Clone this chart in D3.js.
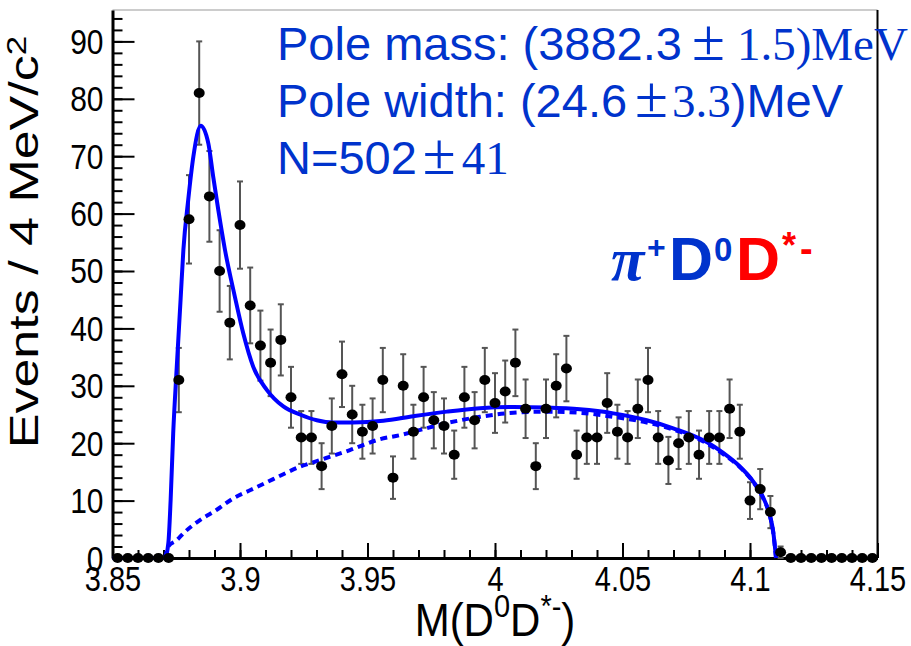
<!DOCTYPE html>
<html>
<head>
<meta charset="utf-8">
<script src="https://cdn.jsdelivr.net/npm/d3@7"></script>
<style>
body { margin: 0; background: #fff; }
svg { display: block; }
</style>
</head>
<body>
<div id="chart"></div>
<script>
// histogram: 75 bins of 4 MeV from 3.85 GeV
var binLow = 3.85;
var binWidth = 0.004;
var counts = [0, 0, 0, 0, 0, 0,
    31, 59, 81, 63, 50, 41, 58, 44, 37, 34,
    38, 28, 21, 21, 16, 23, 32, 25, 22, 23,
    31, 14, 30, 22, 28, 24, 23, 18, 28, 24,
    31, 27, 29, 34, 26, 16, 26, 30, 33, 18,
    21, 21, 27, 22, 21, 26, 31, 21, 17, 20,
    21, 18, 21, 21, 26, 22, 10, 12, 8, 1,
    0, 0, 0, 0, 0, 0, 0, 0, 0];
var errors = [0, 0, 0, 0, 0, 0,
    5.6, 7.7, 9, 7.9, 7.1, 6.4, 7.6, 6.6, 6.1, 5.8,
    6.2, 5.3, 4.6, 4.6, 4, 4.8, 5.7, 5, 4.7, 4.8,
    5.6, 3.7, 5.5, 4.7, 5.3, 4.9, 4.8, 4.2, 5.3, 4.9,
    5.6, 5.2, 5.4, 5.8, 5.1, 4, 5.1, 5.5, 5.7, 4.2,
    4.6, 4.6, 5.2, 4.7, 4.6, 5.1, 5.6, 4.6, 4.1, 4.5,
    4.6, 4.2, 4.6, 4.6, 5.1, 4.7, 3.2, 3.5, 2.8, 1,
    0, 0, 0, 0, 0, 0, 0, 0, 0];

// total fit (solid)
var fitMass = [3.85, 3.8706, 3.8719, 3.8728, 3.8738, 3.8752, 3.8767, 3.8778, 3.8797, 3.8817,
    3.8846, 3.8876, 3.8895, 3.8915, 3.8941, 3.8980, 3.9013, 3.9052, 3.9105, 3.9170,
    3.9235, 3.9301, 3.9366, 3.9444, 3.9562, 3.9680, 3.9811, 3.9941, 4.0072, 4.0203,
    4.0333, 4.0464, 4.0595, 4.0699, 4.0830, 4.0895, 4.0961, 4.1013, 4.1052, 4.1078,
    4.1091, 4.1102];
var fitValue = [0, 0, 2.6, 10.1, 21.7, 33.3, 45, 53.7, 62.4, 69.9,
    75.3, 72.2, 66.4, 60.6, 53.7, 45.5, 39.1, 33.3, 29.3, 26.4,
    25, 24, 23.6, 23.6, 23.9, 24.7, 25.5, 26.1, 26.3, 26.2,
    25.9, 25.2, 24, 22.6, 20.2, 18.3, 15.9, 13.3, 10.5, 7.4,
    4.6, 0];

// background (dashed)
var bkgMass = [3.8706, 3.8719, 3.8752, 3.8778, 3.8843, 3.8909, 3.8974, 3.9039, 3.9105, 3.9170,
    3.9235, 3.9275, 3.9431, 3.9549, 3.9627, 3.9680, 3.9811, 3.9941, 4.0072, 4.0203,
    4.0333, 4.0464, 4.0595, 4.0725, 4.0830, 4.0895, 4.0961, 4.1013, 4.1052, 4.1078,
    4.1091, 4.1102];
var bkgValue = [0, 2, 3.1, 4.3, 6.6, 8.4, 10.4, 11.8, 13.2, 14.6,
    15.9, 16.5, 18.8, 20.7, 21.4, 22, 23.5, 24.6, 25.3, 25.5,
    25.3, 24.6, 23.6, 22, 20, 18.1, 15.8, 13.2, 10.4, 7.3,
    4.5, 0];

var xTicks = [3.85, 3.9, 3.95, 4, 4.05, 4.1, 4.15];
var xTickLabels = ["3.85", "3.9", "3.95", "4", "4.05", "4.1", "4.15"];
var yTicks = [0, 10, 20, 30, 40, 50, 60, 70, 80, 90];

var width = 911, height = 646;
var padding = { top: 10, right: 33.5, bottom: 88, left: 112.5 };
var blue = "#0000ff", textBlue = "#0033cc", red = "#ff0000";
var sans = "'Liberation Sans', Arial, sans-serif";
var serif = "'Liberation Serif', 'Times New Roman', serif";

var svg = d3.select("#chart")
    .append("svg")
    .attr("width", width)
    .attr("height", height)
    .style("font-family", sans);

var xScale = d3.scaleLinear()
    .domain([3.85, 4.15])
    .range([padding.left, width - padding.right]);
var yScale = d3.scaleLinear()
    .domain([0, 95.47])
    .range([height - padding.bottom, padding.top]);

var x0 = padding.left, x1 = width - padding.right;
var y0 = height - padding.bottom, y1 = padding.top;

// frame (top and right)
svg.append("line")
    .attr("x1", x0).attr("x2", x1).attr("y1", y1).attr("y2", y1)
    .attr("stroke", "#999").attr("stroke-width", 1.2);
svg.append("line")
    .attr("x1", x1).attr("x2", x1).attr("y1", y1).attr("y2", y0)
    .attr("stroke", "#000").attr("stroke-width", 2);

// minor ticks
svg.append("g")
    .attr("transform", "translate(" + x0 + ",0)")
    .call(d3.axisLeft(yScale).tickValues(d3.range(0, 96, 2)).tickSize(-10).tickFormat(""))
    .call(function(g) { g.select(".domain").remove(); })
    .selectAll("line").attr("stroke-width", 2);
svg.append("g")
    .attr("transform", "translate(0," + y0 + ")")
    .call(d3.axisBottom(xScale).tickValues(d3.range(0, 31).map(function(i) { return 3.85 + i * 0.01; })).tickSize(-8).tickFormat(""))
    .call(function(g) { g.select(".domain").remove(); })
    .selectAll("line").attr("stroke-width", 2);

// major axes
var yAxis = d3.axisLeft(yScale)
    .tickValues(yTicks)
    .tickSize(-22)
    .tickSizeOuter(0)
    .tickPadding(9);
var gy = svg.append("g")
    .attr("transform", "translate(" + x0 + ",0)")
    .call(yAxis);
gy.select(".domain").attr("stroke-width", 3);
gy.selectAll("line").attr("stroke-width", 2);
gy.selectAll("text")
    .attr("dy", null)
    .attr("fill", "#000")
    .style("font-size", "30px")
    .style("font-family", sans)
    .attr("transform", "translate(0,12) scale(1,1.15)");

var xAxis = d3.axisBottom(xScale)
    .tickValues(xTicks)
    .tickSize(-15)
    .tickSizeOuter(0)
    .tickFormat(function(d, i) { return xTickLabels[i]; });
var gx = svg.append("g")
    .attr("transform", "translate(0," + y0 + ")")
    .call(xAxis);
gx.select(".domain").attr("stroke-width", 3);
gx.selectAll("line").attr("stroke-width", 2);
gx.selectAll("text")
    .attr("dy", null)
    .attr("y", 0)
    .attr("fill", "#000")
    .style("font-size", "29px")
    .style("font-family", sans)
    .attr("transform", "translate(0,33) scale(1,1.2)");

// data
var bins = counts.map(function(c, i) {
    return { x: binLow + binWidth * (i + 0.5), n: c, e: errors[i] };
});

var bars = svg.append("g")
    .attr("stroke", "#555")
    .attr("stroke-width", 2);
bins.filter(function(d) { return d.e > 0; }).forEach(function(d) {
    var cx = xScale(d.x);
    bars.append("line")
        .attr("x1", cx).attr("x2", cx)
        .attr("y1", yScale(d.n - d.e)).attr("y2", yScale(d.n + d.e));
    bars.append("line")
        .attr("x1", cx - 3).attr("x2", cx + 3)
        .attr("y1", yScale(d.n + d.e)).attr("y2", yScale(d.n + d.e));
    bars.append("line")
        .attr("x1", cx - 3).attr("x2", cx + 3)
        .attr("y1", yScale(d.n - d.e)).attr("y2", yScale(d.n - d.e));
});

var line = d3.line()
    .x(function(d) { return xScale(d[0]); })
    .y(function(d) { return yScale(d[1]); })
    .curve(d3.curveMonotoneX);

svg.append("path")
    .datum(bkgMass.map(function(m, i) { return [m, bkgValue[i]]; }))
    .attr("d", line)
    .attr("fill", "none")
    .attr("stroke", blue)
    .attr("stroke-width", 4)
    .attr("stroke-dasharray", "7,5");

svg.append("path")
    .datum(fitMass.map(function(m, i) { return [m, fitValue[i]]; }))
    .attr("d", line)
    .attr("fill", "none")
    .attr("stroke", blue)
    .attr("stroke-width", 4);

svg.append("g")
    .selectAll("ellipse")
    .data(bins)
    .enter()
    .append("ellipse")
    .attr("cx", function(d) { return xScale(d.x); })
    .attr("cy", function(d) { return yScale(d.n); })
    .attr("rx", 5.5)
    .attr("ry", 5)
    .attr("fill", "#000");

// axis titles
var yt = svg.append("text")
    .attr("transform", "translate(38,242) rotate(-90) scale(1.3,1)")
    .attr("text-anchor", "middle")
    .style("font-size", "40px")
    .attr("fill", "#000");
yt.append("tspan").text("Events / 4 MeV/c");
yt.append("tspan").attr("dy", -12).style("font-size", "27px").text("2");

var xt = svg.append("text")
    .attr("transform", "translate(495,636) scale(1,1.1)")
    .attr("text-anchor", "middle")
    .style("font-size", "42px")
    .attr("fill", "#000");
xt.append("tspan").text("M(D");
xt.append("tspan").attr("dy", -17).style("font-size", "29px").text("0");
xt.append("tspan").attr("dy", 17).text("D");
xt.append("tspan").attr("dy", -17).style("font-size", "29px").text("*-");
xt.append("tspan").attr("dy", 17).text(")");

// fit results
var info = svg.append("g")
    .attr("fill", textBlue)
    .style("font-size", "47px");
var l1 = info.append("text").attr("x", 277).attr("y", 60);
l1.append("tspan").text("Pole mass: (3882.3");
l1.append("tspan").attr("dx", 10).style("font-family", serif).style("font-size", "60px").text("\u00b1");
l1.append("tspan").attr("dx", 12).style("font-family", serif).text("1.5)MeV");
var l2 = info.append("text").attr("x", 277).attr("y", 117);
l2.append("tspan").text("Pole width: (24.6");
l2.append("tspan").attr("dx", 8).style("font-family", serif).style("font-size", "60px").text("\u00b1");
l2.append("tspan").attr("dx", 4).style("font-family", serif).text("3.3");
l2.append("tspan").text(")MeV");
var l3 = info.append("text").attr("x", 277).attr("y", 174);
l3.append("tspan").text("N=502");
l3.append("tspan").attr("dx", 6).style("font-family", serif).style("font-size", "60px").text("\u00b1");
l3.append("tspan").attr("dx", 6).style("font-family", serif).text("41");

// channel label
var ch = svg.append("text")
    .attr("y", 280)
    .style("font-weight", "bold")
    .style("font-size", "61px");
ch.append("tspan").attr("x", 611).attr("fill", textBlue).style("font-family", serif).style("font-style", "italic").text("\u03c0");
ch.append("tspan").attr("x", 647).attr("y", 258).attr("fill", textBlue).style("font-size", "32px").text("+");
ch.append("tspan").attr("x", 669).attr("y", 280).attr("fill", textBlue).text("D");
ch.append("tspan").attr("x", 714).attr("y", 261).attr("fill", textBlue).style("font-size", "33px").text("0");
ch.append("tspan").attr("x", 736).attr("y", 280).attr("fill", red).text("D");
ch.append("tspan").attr("x", 782).attr("y", 258).attr("fill", red).style("font-size", "36px").text("*");
ch.append("tspan").attr("x", 800).attr("y", 262).attr("fill", red).style("font-size", "38px").text("-");
</script>
</body>
</html>
